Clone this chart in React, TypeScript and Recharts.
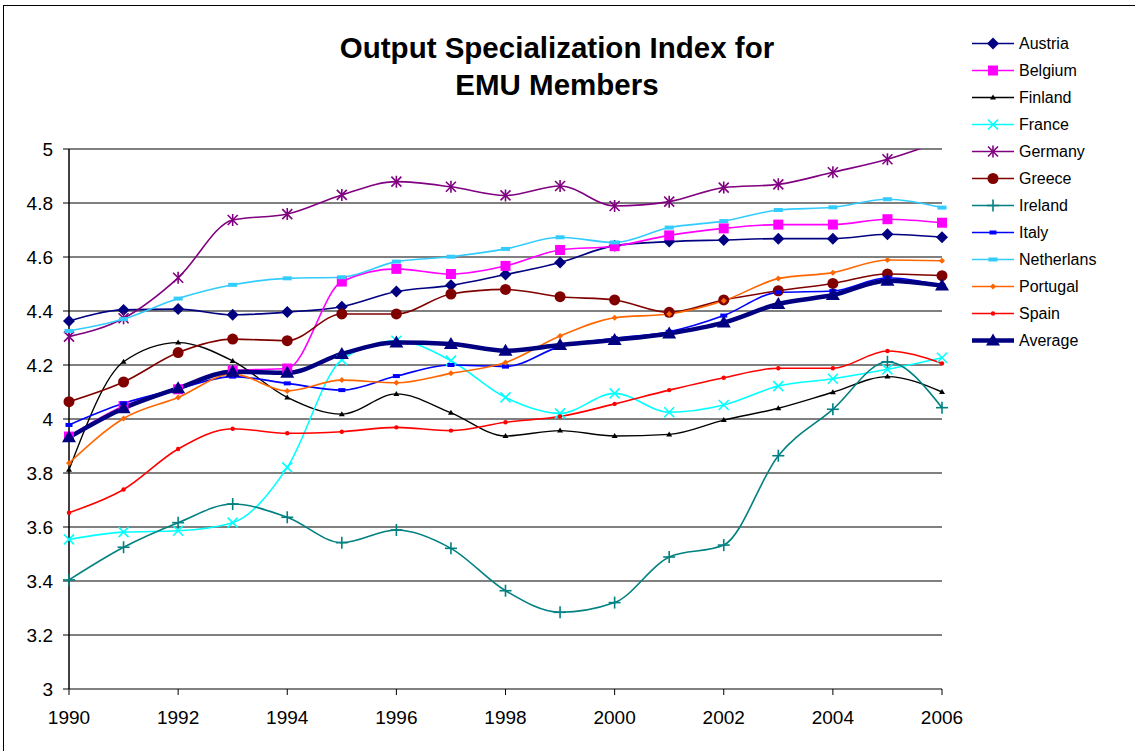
import React from "react";
import {
  LineChart,
  Line,
  XAxis,
  YAxis,
  CartesianGrid,
} from "recharts";

const years = [1990, 1991, 1992, 1993, 1994, 1995, 1996, 1997, 1998, 1999, 2000, 2001, 2002, 2003, 2004, 2005, 2006];

const austria = [4.363, 4.404, 4.407, 4.386, 4.396, 4.416, 4.472, 4.495, 4.535, 4.58, 4.642, 4.657, 4.663, 4.668, 4.668, 4.684, 4.673];
const belgium = [3.935, 4.048, 4.11, 4.18, 4.187, 4.509, 4.556, 4.537, 4.567, 4.626, 4.64, 4.68, 4.706, 4.72, 4.72, 4.74, 4.727];
const finland = [3.812, 4.212, 4.283, 4.215, 4.08, 4.018, 4.093, 4.023, 3.937, 3.957, 3.937, 3.943, 3.996, 4.04, 4.099, 4.157, 4.1];
const france = [3.554, 3.581, 3.586, 3.616, 3.821, 4.219, 4.29, 4.216, 4.08, 4.021, 4.095, 4.025, 4.052, 4.122, 4.149, 4.184, 4.227];
const germany = [4.305, 4.373, 4.523, 4.737, 4.759, 4.83, 4.879, 4.86, 4.828, 4.863, 4.789, 4.805, 4.857, 4.869, 4.914, 4.962, 5.03];
const greece = [4.064, 4.137, 4.246, 4.296, 4.29, 4.389, 4.389, 4.463, 4.48, 4.453, 4.441, 4.395, 4.441, 4.475, 4.502, 4.537, 4.531];
const ireland = [3.404, 3.525, 3.616, 3.685, 3.636, 3.542, 3.589, 3.521, 3.364, 3.284, 3.32, 3.489, 3.533, 3.864, 4.036, 4.212, 4.042];
const italy = [3.978, 4.058, 4.111, 4.157, 4.132, 4.107, 4.159, 4.2, 4.194, 4.268, 4.299, 4.323, 4.383, 4.469, 4.474, 4.523, 4.494];
const netherlands = [4.326, 4.37, 4.446, 4.497, 4.521, 4.525, 4.583, 4.601, 4.63, 4.673, 4.654, 4.709, 4.733, 4.774, 4.784, 4.814, 4.783];
const portugal = [3.837, 4.002, 4.08, 4.167, 4.104, 4.144, 4.134, 4.169, 4.209, 4.307, 4.375, 4.389, 4.438, 4.52, 4.542, 4.589, 4.586];
const spain = [3.653, 3.739, 3.889, 3.964, 3.947, 3.953, 3.969, 3.957, 3.988, 4.009, 4.056, 4.107, 4.153, 4.188, 4.188, 4.252, 4.206];
const average = [3.932, 4.04, 4.114, 4.175, 4.171, 4.241, 4.283, 4.278, 4.253, 4.274, 4.293, 4.317, 4.357, 4.426, 4.459, 4.512, 4.494];

const xTicks = [1990, 1992, 1994, 1996, 1998, 2000, 2002, 2004, 2006];
const yTicks = [3, 3.2, 3.4, 3.6, 3.8, 4, 4.2, 4.4, 4.6, 4.8, 5];

const FONT = '"Liberation Sans", Arial, sans-serif';

// name, values, colour, marker, line width
const series = [
  { name: "Austria", values: austria, color: "#000080", marker: "diamond", width: 1.6 },
  { name: "Belgium", values: belgium, color: "#FF00FF", marker: "square", width: 1.6 },
  { name: "Finland", values: finland, color: "#000000", marker: "tri-small", width: 1.4 },
  { name: "France", values: france, color: "#00FFFF", marker: "x", width: 1.6 },
  { name: "Germany", values: germany, color: "#800080", marker: "star", width: 1.6 },
  { name: "Greece", values: greece, color: "#800000", marker: "circle", width: 1.6 },
  { name: "Ireland", values: ireland, color: "#008080", marker: "plus", width: 1.6 },
  { name: "Italy", values: italy, color: "#0000FF", marker: "dash-small", width: 1.6 },
  { name: "Netherlans", values: netherlands, color: "#33CCFF", marker: "dash", width: 1.6 },
  { name: "Portugal", values: portugal, color: "#FF6600", marker: "diamond-small", width: 1.6 },
  { name: "Spain", values: spain, color: "#FF0000", marker: "dot", width: 1.6 },
  { name: "Average", values: average, color: "#000080", marker: "tri", width: 4.5 },
];

const data = years.map((year, i) => {
  const row: Record<string, number> = { year };
  series.forEach((s) => {
    row[s.name] = s.values[i];
  });
  return row;
});

function Marker({ kind, cx, cy, color }: { kind: string; cx: number; cy: number; color: string }) {
  if (cx == null || cy == null || isNaN(cx) || isNaN(cy)) return <g />;
  switch (kind) {
    case "diamond":
      return <polygon points={`${cx},${cy - 6} ${cx + 6},${cy} ${cx},${cy + 6} ${cx - 6},${cy}`} fill={color} />;
    case "diamond-small":
      return <polygon points={`${cx},${cy - 3} ${cx + 3},${cy} ${cx},${cy + 3} ${cx - 3},${cy}`} fill={color} />;
    case "square":
      return <rect x={cx - 5} y={cy - 5} width={10} height={10} fill={color} />;
    case "tri-small":
      return <polygon points={`${cx},${cy - 3} ${cx + 3},${cy + 2} ${cx - 3},${cy + 2}`} fill={color} />;
    case "tri":
      return <polygon points={`${cx},${cy - 7} ${cx + 7},${cy + 5} ${cx - 7},${cy + 5}`} fill={color} />;
    case "x":
      return (
        <g stroke={color} strokeWidth={1.6}>
          <line x1={cx - 5} y1={cy - 5} x2={cx + 5} y2={cy + 5} />
          <line x1={cx - 5} y1={cy + 5} x2={cx + 5} y2={cy - 5} />
        </g>
      );
    case "star":
      return (
        <g stroke={color} strokeWidth={1.6}>
          <line x1={cx - 5} y1={cy - 5} x2={cx + 5} y2={cy + 5} />
          <line x1={cx - 5} y1={cy + 5} x2={cx + 5} y2={cy - 5} />
          <line x1={cx} y1={cy - 6} x2={cx} y2={cy + 6} />
        </g>
      );
    case "plus":
      return (
        <g stroke={color} strokeWidth={1.6}>
          <line x1={cx - 6} y1={cy} x2={cx + 6} y2={cy} />
          <line x1={cx} y1={cy - 6} x2={cx} y2={cy + 6} />
        </g>
      );
    case "circle":
      return <circle cx={cx} cy={cy} r={5.5} fill={color} />;
    case "dash-small":
      return <rect x={cx - 3.5} y={cy - 2} width={7} height={4} fill={color} />;
    case "dash":
      return <rect x={cx - 4.5} y={cy - 2} width={9} height={4} fill={color} />;
    case "dot":
      return <circle cx={cx} cy={cy} r={2.2} fill={color} />;
    default:
      return <g />;
  }
}

function LegendBox() {
  return (
    <div style={{ fontFamily: FONT, fontSize: 16, color: "#000" }}>
      {series.map((s) => (
        <div key={s.name} style={{ display: "flex", alignItems: "center", height: 27 }}>
          <svg width={51} height={27} style={{ display: "block" }}>
            <line x1={4} y1={13.5} x2={46} y2={13.5} stroke={s.color} strokeWidth={s.width} />
            <Marker kind={s.marker} cx={25} cy={13.5} color={s.color} />
          </svg>
          <span style={{ lineHeight: "27px", whiteSpace: "nowrap" }}>{s.name}</span>
        </div>
      ))}
    </div>
  );
}

export default function App() {
  return (
    <div style={{ position: "absolute", left: 0, top: 0, width: 1135, height: 751, overflow: "hidden", background: "#fff" }}>
      <div
        style={{
          position: "absolute",
          left: 3,
          top: 5,
          width: 1150,
          height: 770,
          border: "1px solid #000",
          boxSizing: "border-box",
        }}
      />
      <div
        style={{
          position: "absolute",
          left: 257,
          top: 29,
          width: 600,
          textAlign: "center",
          fontFamily: FONT,
          fontWeight: "bold",
          fontSize: 29.5,
          lineHeight: "37px",
          color: "#000",
        }}
      >
        Output Specialization Index for
        <br />
        EMU Members
      </div>
      <div style={{ position: "absolute", left: 0, top: 0 }}>
        <LineChart
          width={1135}
          height={751}
          data={data}
          margin={{ top: 149, right: 193, bottom: 22, left: 19 }}
        >
          <CartesianGrid horizontal vertical={false} stroke="#000" strokeWidth={1} />
          <XAxis
            dataKey="year"
            type="number"
            domain={[1990, 2006]}
            ticks={xTicks}
            height={40}
            tickSize={6}
            tickMargin={16}
            axisLine={{ stroke: "#808080", strokeWidth: 2 }}
            tickLine={{ stroke: "#000" }}
            tick={{ fill: "#000", fontSize: 19, fontFamily: FONT }}
            interval={0}
          />
          <YAxis
            type="number"
            domain={[3, 5]}
            ticks={yTicks}
            allowDataOverflow
            width={50}
            tickSize={6}
            tickMargin={10}
            axisLine={{ stroke: "#000", strokeWidth: 1.5 }}
            tickLine={{ stroke: "#000" }}
            tick={{ fill: "#000", fontSize: 19, fontFamily: FONT }}
            tickFormatter={(v: number) => String(Number(v.toFixed(1)))}
            interval={0}
          />
          {series.map((s) => (
            <Line
              key={s.name}
              dataKey={s.name}
              type="monotone"
              stroke={s.color}
              strokeWidth={s.width}
              isAnimationActive={false}
              activeDot={false}
              dot={(p: any) => (
                <Marker key={`${s.name}-${p.index}`} kind={s.marker} cx={p.cx} cy={p.cy} color={s.color} />
              )}
            />
          ))}
        </LineChart>
      </div>
      <div style={{ position: "absolute", left: 968, top: 30, width: 165 }}>
        <LegendBox />
      </div>
    </div>
  );
}
